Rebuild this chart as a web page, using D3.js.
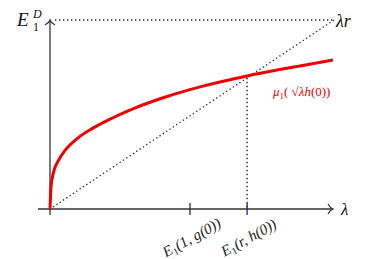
<!DOCTYPE html>
<html>
<head>
<meta charset="utf-8">
<script src="https://cdn.jsdelivr.net/npm/d3@7"></script>
<style>
  body { margin: 0; background: #fff; }
</style>
</head>
<body>
<div class="chart"></div>
<script>
// curve mu_1(sqrt(lambda) h(0)) (lambda scaled so lambda*r = 1)
var curveX = [0, 0.0035, 0.0116, 0.029, 0.053, 0.100, 0.147, 0.187, 0.292, 0.412, 0.528, 0.694, 0.799, 0.880, 0.996];
var curveY = [0, 0.116, 0.190, 0.255, 0.310, 0.378, 0.424, 0.457, 0.530, 0.595, 0.646, 0.704, 0.735, 0.757, 0.788];

var tickPos = [0.493, 0.694];
var tickNames = [['E', '1', '(1, g(0))'], ['E', '1', '(r, h(0))']];
var lambdaR = 1;

var svg = d3.select('.chart').append('svg')
            .attr('width', 381)
            .attr('height', 259)
            .attr('font-family', "'Liberation Serif', 'DejaVu Serif', 'Times New Roman', serif")
            .attr('font-style', 'italic');

var x = d3.scaleLinear().domain([0, 1]).range([50, 334]);
var y = d3.scaleLinear().domain([0, 1]).range([209, 20]);

var ink = '#333';

// dotted guides
var dots = function(x1, y1, x2, y2) {
  svg.append('line')
     .attr('x1', x1).attr('y1', y1).attr('x2', x2).attr('y2', y2)
     .attr('stroke', '#222')
     .attr('stroke-width', 1.3)
     .attr('stroke-dasharray', '1.3,2.7');
};
dots(x(0) + 5, y(lambdaR), x(lambdaR), y(lambdaR));
dots(x(0) + 3, y(0) - 2, x(lambdaR), y(lambdaR));
dots(x(tickPos[1]), y(tickPos[1]), x(tickPos[1]), y(0));

// axes
svg.append('line')
   .attr('x1', 38).attr('y1', y(0)).attr('x2', 333).attr('y2', y(0))
   .attr('stroke', ink).attr('stroke-width', 1.3);
svg.append('line')
   .attr('x1', x(0)).attr('y1', 215).attr('x2', x(0)).attr('y2', 20)
   .attr('stroke', ink).attr('stroke-width', 1.3);
svg.append('path')
   .attr('d', 'M328,204 Q330,208 333,209 Q330,210 328,214')
   .attr('fill', 'none').attr('stroke', ink).attr('stroke-width', 1.2);
svg.append('path')
   .attr('d', 'M45,25 Q49,23 50,20 Q51,23 55,25')
   .attr('fill', 'none').attr('stroke', ink).attr('stroke-width', 1.2);

// ticks
svg.selectAll('.tick')
   .data(tickPos)
   .enter()
   .append('line')
   .attr('x1', function(d) { return x(d); })
   .attr('x2', function(d) { return x(d); })
   .attr('y1', y(0) - 6)
   .attr('y2', y(0) + 6)
   .attr('stroke', '#1a2a6a')
   .attr('stroke-width', 1.3);

var labels = svg.selectAll('.tl')
   .data(tickPos)
   .enter()
   .append('text')
   .attr('transform', function(d) { return 'translate(' + (x(d) + 4) + ',' + (y(0) + 33) + ') rotate(-29)'; })
   .attr('text-anchor', 'middle')
   .attr('font-size', 15)
   .attr('fill', '#222');
labels.each(function(d, i) {
  var t = d3.select(this);
  t.append('tspan').text(tickNames[i][0]);
  t.append('tspan').attr('font-size', 10).attr('font-style', 'normal').attr('dy', 3).text(tickNames[i][1]);
  t.append('tspan').attr('dy', -3).text(tickNames[i][2]);
});

// curve
var pts = curveX.map(function(v, i) { return [v, curveY[i]]; });
svg.append('path')
   .datum(pts)
   .attr('d', d3.line()
     .x(function(d) { return x(d[0]); })
     .y(function(d) { return y(d[1]); })
     .curve(d3.curveMonotoneX))
   .attr('fill', 'none')
   .attr('stroke', '#ee0000')
   .attr('stroke-width', 3);

// labels
var ed = svg.append('text').attr('x', 17).attr('y', 26).attr('font-size', 19).attr('fill', '#111');
ed.append('tspan').text('E');
ed.append('tspan').attr('font-size', 12).attr('x', 33).attr('dy', -8).text('D');
ed.append('tspan').attr('font-size', 12).attr('font-style', 'normal').attr('x', 33).attr('dy', 13).text('1');

svg.append('text').attr('x', 336).attr('y', 27).attr('font-size', 18).attr('fill', '#111').text('λr');
svg.append('text').attr('x', 341).attr('y', 215).attr('font-size', 17).attr('fill', '#111').text('λ');

var mu = svg.append('text').attr('x', 273).attr('y', 96).attr('font-size', 13).attr('fill', '#ee0000');
mu.append('tspan').text('μ');
mu.append('tspan').attr('font-size', 9).attr('font-style', 'normal').attr('dy', 3).text('1');
mu.append('tspan').attr('dy', -3).attr('font-style', 'normal').text('( √');
mu.append('tspan').text('λh');
mu.append('tspan').attr('font-style', 'normal').text('(0))');
</script>
</body>
</html>
